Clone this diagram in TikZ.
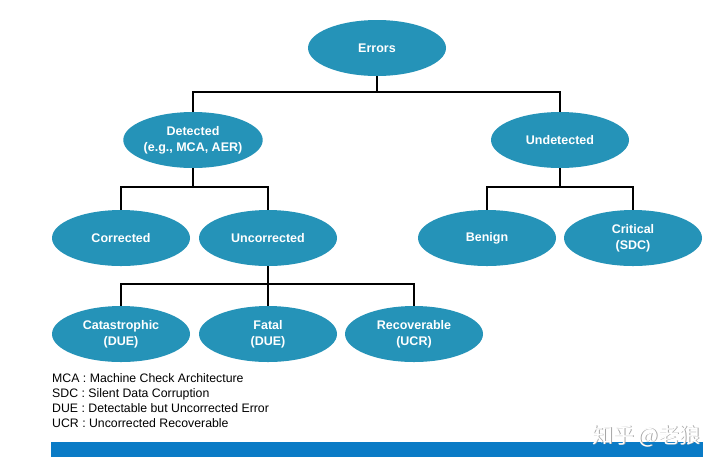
\documentclass[tikz,border=0pt]{standalone}
\usepackage{fontspec}
\setmainfont{Liberation Sans}
\newfontfamily\cjkfont{Noto Sans CJK SC}
\usetikzlibrary{positioning,calc,shapes.geometric}
\definecolor{ovalblue}{HTML}{2593B8}
\definecolor{barblue}{HTML}{0A7BC6}

\begin{document}
\begin{tikzpicture}[x=1pt, y=-1pt,
    oval/.style={ellipse, fill=ovalblue, draw=none, minimum width=138pt, minimum height=56pt,
        inner sep=0pt, text=white, font=\fontsize{12.5}{16}\selectfont\bfseries, align=center},
    link/.style={draw=black, line width=1.1pt}]
    \useasboundingbox (0,0) rectangle (720,467);
    \fill[white] (0,0) rectangle (720,467);

    % Level 1
    \node[oval] (errors) at (377,48) {Errors};

    % Level 2
    \node[oval] (detected) at (193,140) {Detected\\(e.g., MCA, AER)};
    \node[oval] (undetected) at (560,140) {Undetected};

    % Level 3
    \node[oval] (corrected) at (121,238) {Corrected};
    \node[oval] (uncorrected) at (268,238) {Uncorrected};
    \node[oval] (benign) at (487,238) {Benign};
    \node[oval] (critical) at (633,238) {Critical\\(SDC)};

    % Level 4
    \node[oval] (catastrophic) at (121,334) {Catastrophic\\(DUE)};
    \node[oval] (fatal) at (268,334) {Fatal\\(DUE)};
    \node[oval] (recoverable) at (414,334) {Recoverable\\(UCR)};

    % Junctions
    \coordinate (j1) at (377,92);
    \coordinate (j2) at (193,187);
    \coordinate (j3) at (560,187);
    \coordinate (j4) at (268,284);

    % Tree connectors
    \draw[link] (errors.south) -- (j1) -| (detected.north);
    \draw[link] (j1) -| (undetected.north);
    \draw[link] (detected.south) -- (j2) -| (corrected.north);
    \draw[link] (j2) -| (uncorrected.north);
    \draw[link] (undetected.south) -- (j3) -| (benign.north);
    \draw[link] (j3) -| (critical.north);
    \draw[link] (uncorrected.south) -- (j4) -| (catastrophic.north);
    \draw[link] (j4) -- (fatal.north);
    \draw[link] (j4) -| (recoverable.north);

    % Legend
    \node[anchor=north west, align=left, inner sep=0pt, font=\fontsize{12.3}{15}\selectfont] (legend) at (52,373)
        {MCA : Machine Check Architecture\\
         SDC : Silent Data Corruption\\
         DUE : Detectable but Uncorrected Error\\
         UCR : Uncorrected Recoverable};

    % Bottom bar
    \fill[barblue] (51,442) rectangle (703,457);
    \node[anchor=south east, inner sep=0pt, text=gray!70, font=\cjkfont\fontsize{21}{23}\selectfont] at (701.8,447.8) {知乎 @老狼};
    \node[anchor=south east, inner sep=0pt, text=white, font=\cjkfont\fontsize{21}{23}\selectfont] (mark) at (701,447) {知乎 @老狼};
\end{tikzpicture}
\end{document}
